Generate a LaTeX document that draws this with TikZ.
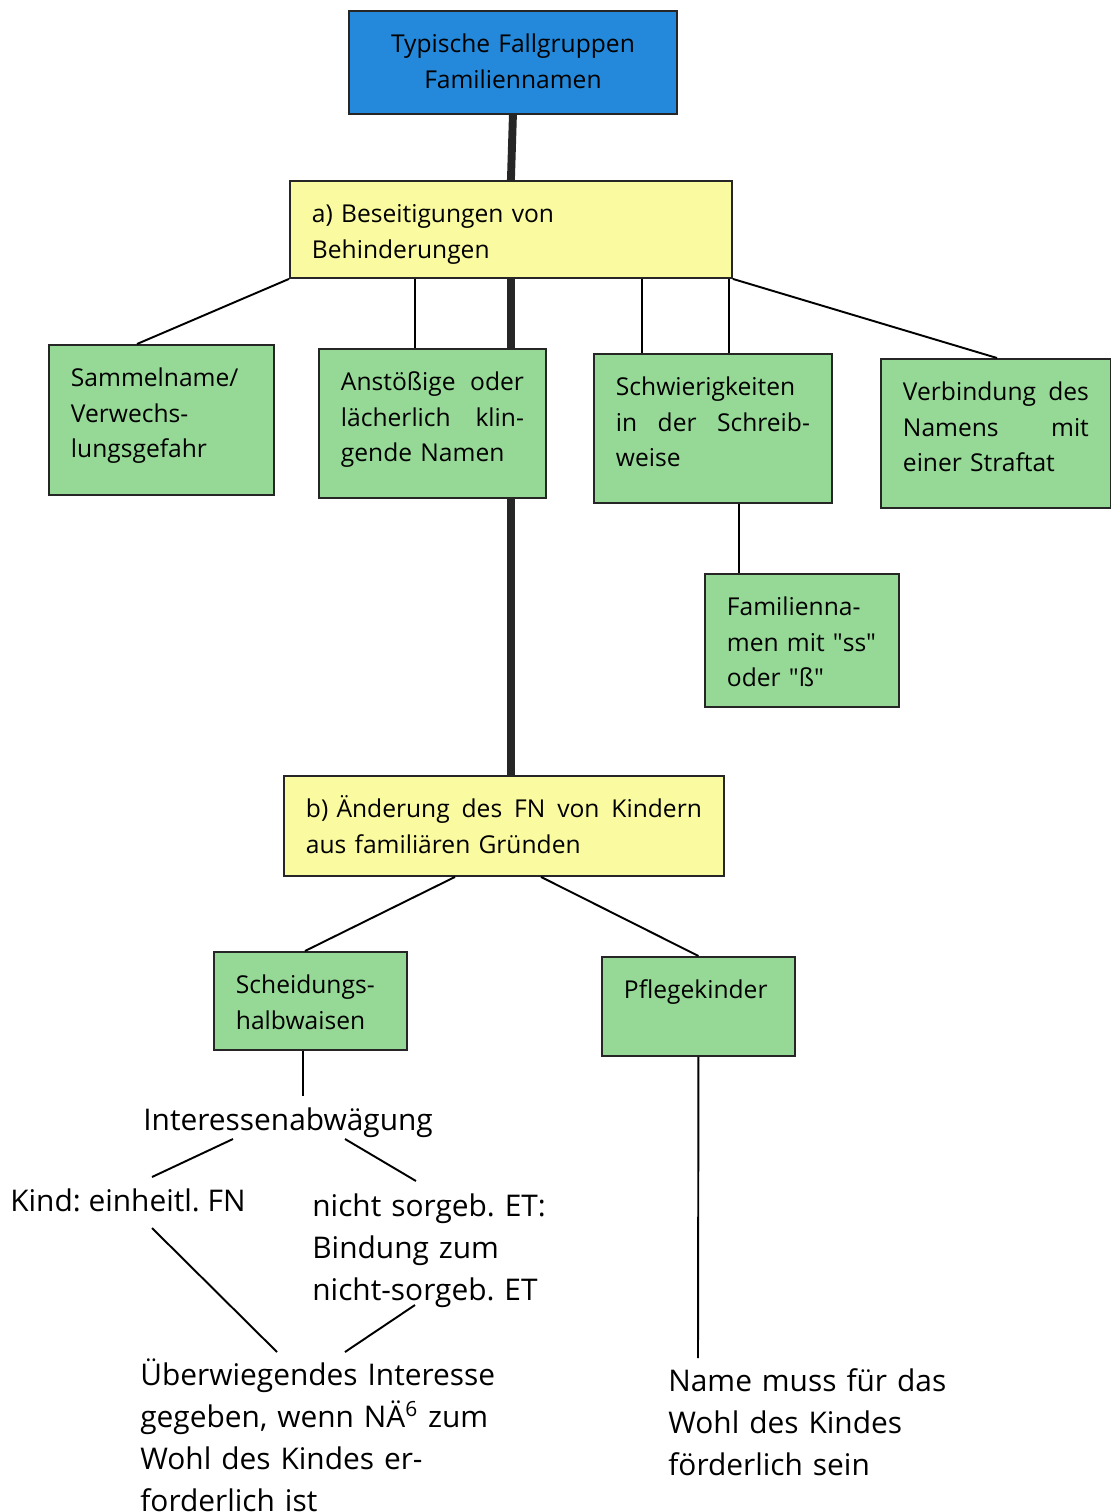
\documentclass[tikz,border=0pt]{standalone}
\usepackage{fontspec}
\setmainfont{Open Sans}
\usetikzlibrary{calc,backgrounds}
\frenchspacing

\definecolor{fnblau}{RGB}{36,137,218}
\definecolor{fngelb}{RGB}{250,250,160}
\definecolor{fngruen}{RGB}{150,217,150}

\tikzset{
  kasten/.style={rectangle, draw=black!85, line width=1.1pt, anchor=north west,
    inner xsep=0.44cm, inner ysep=0.3cm, text height=0.54cm, align=left,
    font=\fontsize{14}{20}\selectfont},
  blau/.style={kasten, fill=fnblau, align=center},
  gelb/.style={kasten, fill=fngelb},
  gruen/.style={kasten, fill=fngruen},
  notiz/.style={inner sep=0pt, anchor=base west, align=left,
    font=\fontsize{17}{24}\selectfont},
  linie/.style={line width=1.1pt},
  balken/.style={line width=4.5pt, black!85},
}

\begin{document}
\begin{tikzpicture}[x=0.02cm, y=-0.02cm]
      \useasboundingbox (0,0) rectangle (1110,1512);

      % Kaesten
      \node[blau, text width=5.68cm, text depth=0.92cm] (top) at (348,10) {Typische Fallgruppen\\Familiennamen};
      \node[gelb, text width=7.96cm, text depth=0.80cm] (a) at (289,180) {a) Beseitigungen von\\Behinderungen};
      \node[gruen, text width=3.62cm, text depth=1.86cm] (sam) at (48,344) {Sammelname/\\Verwechs-\\lungsgefahr};
      \node[gruen, text width=3.66cm, text depth=1.84cm] (anst) at (318,348) {Anstößige\hfill oder\\lächerlich\hfill klin-\\gende Namen};
      \node[gruen, text width=3.88cm, text depth=1.84cm] (schw) at (593,353) {Schwierigkeiten\\in\hfill der\hfill Schreib-\\weise};
      \node[gruen, text width=3.72cm, text depth=1.84cm] (verb) at (880,358) {Verbindung\hfill des\\Namens\hfill mit\\einer Straftat};
      \node[gruen, text width=3.00cm, text depth=1.52cm] (fam) at (704,573) {Familienna-\\men mit \textquotedbl ss\textquotedbl\\oder \textquotedbl ß\textquotedbl};
      \node[gelb, text width=7.92cm, text depth=0.86cm] (b) at (283,775) {b) Änderung\hfill des\hfill FN\hfill von\hfill Kindern\\aus familiären Gründen};
      \node[gruen, text width=2.98cm, text depth=0.82cm] (schei) at (213,951) {Scheidungs-\\halbwaisen};
      \node[gruen, text width=2.98cm, text depth=0.84cm] (pflege) at (601,956) {Pflegekinder};

      % freie Texte
      \node[notiz] (inter) at (143,1130) {Interessenabwägung};
      \node[notiz] (kind) at (10,1211) {Kind: einheitl. FN};
      \node[notiz, text width=6cm] (nicht) at (312,1216) {nicht sorgeb. ET:\\Bindung zum\\nicht-sorgeb. ET};
      \node[notiz, text width=8cm] (ueber) at (140,1385) {Überwiegendes Interesse\\gegeben, wenn NÄ\textsuperscript{6} zum\\Wohl des Kindes er-\\forderlich ist};
      \node[notiz, text width=7cm] (name) at (668,1391) {Name muss für das\\Wohl des Kindes\\förderlich sein};

      % Verbindungen
      \begin{scope}[on background layer]
        \fill[white] (0,0) rectangle (1110,1512);
        \draw[balken] (a.south) -- (a.south |- b.north);
      \end{scope}
      \draw[balken] (top.south) -- (a.north);

      \coordinate (samTop) at ($(sam.north west)+(89,0)$);
      \coordinate (anstTop) at ($(anst.north west)+(97,0)$);
      \coordinate (schwTop1) at ($(schw.north west)+(49,0)$);
      \coordinate (schwTop2) at ($(schw.north west)+(136,0)$);
      \coordinate (verbTop) at ($(verb.north west)+(117,0)$);
      \coordinate (schwBot) at ($(schw.south west)+(146,0)$);

      \draw[linie] (a.south west) -- (samTop);
      \draw[linie] (anstTop |- a.south) -- (anstTop);
      \draw[linie] (schwTop1 |- a.south) -- (schwTop1);
      \draw[linie] (schwTop2 |- a.south) -- (schwTop2);
      \draw[linie] (a.south east) -- (verbTop);
      \draw[linie] (schwBot) -- (schwBot |- fam.north);

      \draw[linie] ($(b.south west)+(172,0)$) -- ($(schei.north west)+(92,0)$);
      \draw[linie] ($(b.south west)+(258,0)$) -- (pflege.north);

      \draw[linie] ($(schei.south west)+(90,0)$) -- ($(inter.base west)+(160,-34)$);
      \draw[linie] ($(inter.base west)+(90,9)$) -- ($(kind.base west)+(142,-34)$);
      \draw[linie] ($(inter.base west)+(202,9)$) -- ($(nicht.base west)+(104,-35)$);
      \draw[linie] ($(kind.base west)+(142,17)$) -- ($(ueber.base west)+(137,-33)$);
      \draw[linie] ($(nicht.base west)+(103,89)$) -- ($(ueber.base west)+(205,-33)$);
      \draw[linie] (pflege.south) -- ($(name.base west)+(30,-33)$);
    \end{tikzpicture}
\end{document}
